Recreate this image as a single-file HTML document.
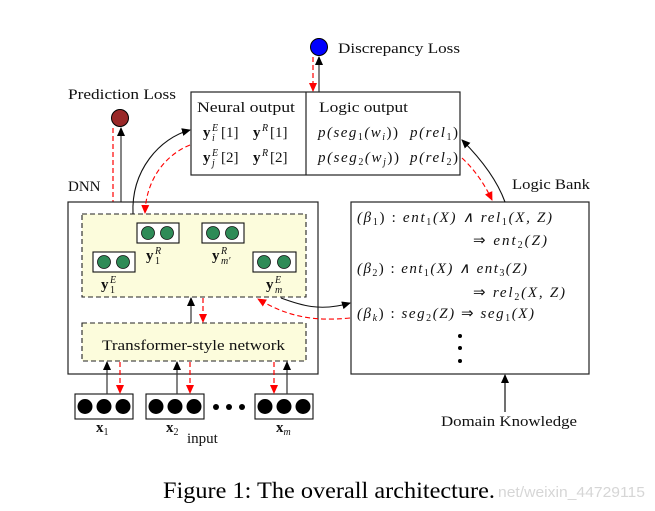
<!DOCTYPE html>
<html><head><meta charset="utf-8"><style>
html,body{margin:0;padding:0;background:#fff;width:655px;height:511px;overflow:hidden}
svg{display:block}
text{font-family:"Liberation Serif",serif;fill:#111;font-size:15px}
.i{font-style:italic}
.b{font-weight:bold}
.s{font-size:10px}
</style></head><body>
<svg width="655" height="511" viewBox="0 0 655 511" xmlns="http://www.w3.org/2000/svg">
<defs>
<marker id="ak" markerWidth="10" markerHeight="10" refX="8" refY="5" orient="auto" markerUnits="userSpaceOnUse"><path d="M0,1 L9,5 L0,9 z" fill="#000"/></marker>
<marker id="ar" markerWidth="10" markerHeight="10" refX="8" refY="5" orient="auto" markerUnits="userSpaceOnUse"><path d="M0,1 L9,5 L0,9 z" fill="#f00"/></marker>
</defs>

<!-- Discrepancy -->
<circle cx="319" cy="47" r="8.5" fill="#0000ff" stroke="#000" stroke-width="1"/>
<text x="338" y="53" textLength="122" lengthAdjust="spacingAndGlyphs">Discrepancy Loss</text>
<line x1="319" y1="92" x2="319" y2="57" stroke="#333" stroke-width="1.2" marker-end="url(#ak)"/>
<line x1="313" y1="57" x2="313" y2="91" stroke="#f00" stroke-width="1.2" stroke-dasharray="5,3" marker-end="url(#ar)"/>

<!-- Top box -->
<rect x="191" y="92" width="269" height="83" fill="#fff" stroke="#222" stroke-width="1.2"/>
<line x1="306" y1="92" x2="306" y2="175" stroke="#222" stroke-width="1.2"/>
<text x="197" y="112" textLength="98" lengthAdjust="spacingAndGlyphs">Neural output</text>
<text x="203" y="137" class="b">y</text><text x="212" y="131" class="s i">E</text><text x="212" y="141" class="s i">i</text><text x="221" y="137">[1]</text>
<text x="253" y="137" class="b">y</text><text x="262" y="131" class="s i">R</text><text x="270" y="137">[1]</text>
<text x="203" y="162" class="b">y</text><text x="212" y="156" class="s i">E</text><text x="212" y="166" class="s i">j</text><text x="221" y="162">[2]</text>
<text x="253" y="162" class="b">y</text><text x="262" y="156" class="s i">R</text><text x="270" y="162">[2]</text>
<text x="319" y="112" textLength="89" lengthAdjust="spacingAndGlyphs">Logic output</text>
<text x="318" y="137" class="i" textLength="80" lengthAdjust="spacing">p(seg<tspan font-size="10" dy="3" font-style="normal">1</tspan><tspan dy="-3">(w</tspan><tspan font-size="10" dy="3">i</tspan><tspan dy="-3" font-style="normal">))</tspan></text>
<text x="410" y="137" class="i" textLength="48" lengthAdjust="spacing">p(rel<tspan font-size="10" dy="3" font-style="normal">1</tspan><tspan dy="-3" font-style="normal">)</tspan></text>
<text x="318" y="162" class="i" textLength="81" lengthAdjust="spacing">p(seg<tspan font-size="10" dy="3" font-style="normal">2</tspan><tspan dy="-3">(w</tspan><tspan font-size="10" dy="3">j</tspan><tspan dy="-3" font-style="normal">))</tspan></text>
<text x="410" y="162" class="i" textLength="48" lengthAdjust="spacing">p(rel<tspan font-size="10" dy="3" font-style="normal">2</tspan><tspan dy="-3" font-style="normal">)</tspan></text>

<!-- Prediction -->
<text x="68" y="99" textLength="108" lengthAdjust="spacingAndGlyphs">Prediction Loss</text>
<circle cx="120" cy="118" r="8.5" fill="#992828" stroke="#000" stroke-width="1"/>
<line x1="121" y1="214" x2="121" y2="128" stroke="#333" stroke-width="1.2" marker-end="url(#ak)"/>
<line x1="113" y1="128" x2="113" y2="213" stroke="#f00" stroke-width="1.2" stroke-dasharray="5,3" marker-end="url(#ar)"/>

<!-- DNN -->
<text x="68" y="191">DNN</text>
<rect x="68" y="202" width="250" height="172" fill="#fff" stroke="#222" stroke-width="1.2"/>
<rect x="82" y="214" width="224" height="83" fill="#fcfcdc" stroke="#222" stroke-width="1.1" stroke-dasharray="5,3"/>
<rect x="82" y="323" width="224" height="38" fill="#fcfcdc" stroke="#222" stroke-width="1.1" stroke-dasharray="5,3"/>
<text x="102" y="350" textLength="183" lengthAdjust="spacingAndGlyphs">Transformer-style network</text>

<!-- vectors -->
<g stroke="#111" stroke-width="1.1">
<rect x="93" y="252" width="42" height="20" fill="#fff"/>
<rect x="137" y="223" width="42" height="20" fill="#fff"/>
<rect x="202" y="223" width="42" height="20" fill="#fff"/>
<rect x="253" y="252" width="43" height="20" fill="#fff"/>
</g>
<g fill="#2e8b57" stroke="#111" stroke-width="0.8">
<circle cx="104" cy="262" r="6.5"/><circle cx="123" cy="262" r="6.5"/>
<circle cx="148" cy="233" r="6.5"/><circle cx="167" cy="233" r="6.5"/>
<circle cx="213" cy="233" r="6.5"/><circle cx="232" cy="233" r="6.5"/>
<circle cx="264" cy="262" r="6.5"/><circle cx="284" cy="262" r="6.5"/>
</g>
<text x="101" y="289" class="b">y</text><text x="110" y="283" class="s i">E</text><text x="110" y="293" class="s">1</text>
<text x="146" y="260" class="b">y</text><text x="155" y="254" class="s i">R</text><text x="155" y="264" class="s">1</text>
<text x="212" y="260" class="b">y</text><text x="221" y="254" class="s i">R</text><text x="221" y="264" class="s i">m′</text>
<text x="266" y="289" class="b">y</text><text x="275" y="283" class="s i">E</text><text x="275" y="293" class="s i">m</text>

<!-- curved arrows top -->
<path d="M133,214 C131,170 160,138 190,130" fill="none" stroke="#111" stroke-width="1.1" marker-end="url(#ak)"/>
<path d="M190,145 C165,155 146,180 145,213" fill="none" stroke="#f00" stroke-width="1.1" stroke-dasharray="5,3" marker-end="url(#ar)"/>

<!-- transformer <-> yellow -->
<line x1="191" y1="323" x2="191" y2="298" stroke="#333" stroke-width="1.2" marker-end="url(#ak)"/>
<line x1="203" y1="298" x2="203" y2="322" stroke="#f00" stroke-width="1.2" stroke-dasharray="5,3" marker-end="url(#ar)"/>

<!-- inputs -->
<g stroke="#111" stroke-width="1.1" fill="#fff">
<rect x="75" y="394" width="58" height="25"/>
<rect x="146" y="394" width="58" height="25"/>
<rect x="255" y="394" width="58" height="25"/>
</g>
<g fill="#000">
<circle cx="85" cy="406.5" r="7.5"/><circle cx="104" cy="406.5" r="7.5"/><circle cx="123" cy="406.5" r="7.5"/>
<circle cx="156" cy="406.5" r="7.5"/><circle cx="175" cy="406.5" r="7.5"/><circle cx="194" cy="406.5" r="7.5"/>
<circle cx="265" cy="406.5" r="7.5"/><circle cx="284" cy="406.5" r="7.5"/><circle cx="303" cy="406.5" r="7.5"/>
<circle cx="216" cy="407" r="3"/><circle cx="229" cy="407" r="3"/><circle cx="242" cy="407" r="3"/>
</g>
<text x="96" y="432"><tspan class="b">x</tspan><tspan font-size="10" dy="3">1</tspan></text>
<text x="166" y="432"><tspan class="b">x</tspan><tspan font-size="10" dy="3">2</tspan></text>
<text x="276" y="432"><tspan class="b">x</tspan><tspan class="i" font-size="10" dy="3">m</tspan></text>
<text x="187" y="443">input</text>
<g stroke-width="1.2">
<line x1="107" y1="394" x2="107" y2="362" stroke="#333" marker-end="url(#ak)"/>
<line x1="120" y1="362" x2="120" y2="393" stroke="#f00" stroke-dasharray="5,3" marker-end="url(#ar)"/>
<line x1="177" y1="394" x2="177" y2="362" stroke="#333" marker-end="url(#ak)"/>
<line x1="190" y1="362" x2="190" y2="393" stroke="#f00" stroke-dasharray="5,3" marker-end="url(#ar)"/>
<line x1="287" y1="394" x2="287" y2="362" stroke="#333" marker-end="url(#ak)"/>
<line x1="274" y1="362" x2="274" y2="393" stroke="#f00" stroke-dasharray="5,3" marker-end="url(#ar)"/>
</g>

<!-- Logic bank -->
<text x="512" y="189" textLength="78" lengthAdjust="spacingAndGlyphs">Logic Bank</text>
<rect x="351" y="202" width="238" height="172" fill="#fff" stroke="#222" stroke-width="1.2"/>
<text x="357" y="222" class="i" textLength="195" lengthAdjust="spacing">(β<tspan font-size="10" dy="3" font-style="normal">1</tspan><tspan dy="-3" font-style="normal">) : </tspan>ent<tspan font-size="10" dy="3" font-style="normal">1</tspan><tspan dy="-3">(X) ∧ rel</tspan><tspan font-size="10" dy="3" font-style="normal">1</tspan><tspan dy="-3">(X, Z)</tspan></text>
<text x="473" y="245" class="i" textLength="74" lengthAdjust="spacing"><tspan font-style="normal">⇒ </tspan>ent<tspan font-size="10" dy="3" font-style="normal">2</tspan><tspan dy="-3">(Z)</tspan></text>
<text x="357" y="273" class="i" textLength="170" lengthAdjust="spacing">(β<tspan font-size="10" dy="3" font-style="normal">2</tspan><tspan dy="-3" font-style="normal">) : </tspan>ent<tspan font-size="10" dy="3" font-style="normal">1</tspan><tspan dy="-3">(X) ∧ ent</tspan><tspan font-size="10" dy="3" font-style="normal">3</tspan><tspan dy="-3">(Z)</tspan></text>
<text x="473" y="297" class="i" textLength="92" lengthAdjust="spacing"><tspan font-style="normal">⇒ </tspan>rel<tspan font-size="10" dy="3" font-style="normal">2</tspan><tspan dy="-3">(X, Z)</tspan></text>
<text x="357" y="318" class="i" textLength="177" lengthAdjust="spacing">(β<tspan font-size="10" dy="3">k</tspan><tspan dy="-3" font-style="normal">) : </tspan>seg<tspan font-size="10" dy="3" font-style="normal">2</tspan><tspan dy="-3">(Z) </tspan><tspan font-style="normal">⇒ </tspan>seg<tspan font-size="10" dy="3" font-style="normal">1</tspan><tspan dy="-3">(X)</tspan></text>
<circle cx="460" cy="336" r="2" fill="#000"/><circle cx="460" cy="348" r="2" fill="#000"/><circle cx="460" cy="361" r="2" fill="#000"/>

<!-- logic bank arrows -->
<path d="M505,202 C497,180 482,160 462,140" fill="none" stroke="#111" stroke-width="1.1" marker-end="url(#ak)"/>
<path d="M462,158 C475,170 485,185 492,200" fill="none" stroke="#f00" stroke-width="1.1" stroke-dasharray="5,3" marker-end="url(#ar)"/>
<path d="M281,298 C300,305 320,312 350,303" fill="none" stroke="#111" stroke-width="1.1" marker-end="url(#ak)"/>
<path d="M350,318 C310,322 285,315 258,299" fill="none" stroke="#f00" stroke-width="1.1" stroke-dasharray="5,3" marker-end="url(#ar)"/>

<!-- Domain knowledge -->
<line x1="505" y1="412" x2="505" y2="375" stroke="#111" stroke-width="1.2" marker-end="url(#ak)"/>
<text x="441" y="426" textLength="136" lengthAdjust="spacingAndGlyphs">Domain Knowledge</text>

<!-- caption -->
<text x="163" y="498" style="font-size:23px;fill:#000" textLength="332" lengthAdjust="spacingAndGlyphs">Figure 1: The overall architecture.</text>
<text x="498" y="497" style="font-family:'Liberation Sans',sans-serif;font-size:15px;fill:#d6d6d6" textLength="147" lengthAdjust="spacingAndGlyphs">net/weixin_44729115</text>
</svg>
</body></html>
